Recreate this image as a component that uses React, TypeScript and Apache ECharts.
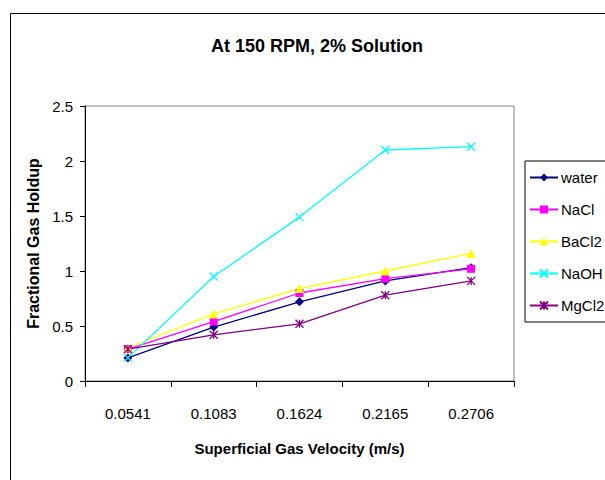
import React, { useEffect, useRef } from "react";
import * as echarts from "echarts";

const categories = ["0.0541", "0.1083", "0.1624", "0.2165", "0.2706"];
const water = [0.21, 0.49, 0.72, 0.91, 1.03];
const nacl = [0.29, 0.54, 0.8, 0.93, 1.02];
const bacl2 = [0.3, 0.61, 0.84, 1.0, 1.16];
const naoh = [0.21, 0.95, 1.49, 2.1, 2.13];
const mgcl2 = [0.29, 0.42, 0.52, 0.78, 0.91];
const yTicks = [0, 0.5, 1, 1.5, 2, 2.5];

const X_PATH = "path://M0,0 L10,10 M10,0 L0,10";
const STAR_PATH = "path://M0,0 L10,10 M10,0 L0,10 M5,0 L5,10";

export default function App() {
  const ref = useRef<HTMLDivElement>(null);
  useEffect(() => {
    document.body.style.margin = "0";
    const chart = echarts.init(ref.current!, null, { renderer: "svg" });
    const font = "'Liberation Sans', Arial, sans-serif";
    const mk = (name: string, data: number[], color: string, symbol: string, size: number, stroke?: boolean) => ({
      name,
      type: "line",
      data,
      symbol,
      symbolSize: size,
      showAllSymbol: true,
      lineStyle: { color, width: 1.3 },
      itemStyle: stroke
        ? { color, borderColor: color, borderWidth: 1.3 }
        : { color, borderWidth: 0 },
      emphasis: { disabled: true },
    });
    chart.setOption({
      animation: false,
      backgroundColor: "#fff",
      textStyle: { fontFamily: font },
      title: {
        text: "At 150 RPM, 2% Solution",
        left: 312,
        textAlign: "center",
        top: 32,
        textStyle: { fontSize: 18, fontWeight: "bold", color: "#000", fontFamily: font },
      },
      graphic: [
        {
          type: "rect",
          shape: { x: 10.5, y: 13.5, width: 700, height: 600 },
          style: { fill: "none", stroke: "#000", lineWidth: 1 },
          z: -1,
        },
      ],
      grid: {
        left: 85,
        top: 106,
        right: 91,
        bottom: 99,
        show: true,
        borderColor: "#808080",
        borderWidth: 1,
        backgroundColor: "transparent",
      },
      legend: {
        orient: "vertical",
        left: 525,
        top: 161,
        padding: [9, 8, 9, 4],
        itemGap: 17,
        itemWidth: 28,
        itemHeight: 10,
        borderColor: "#000",
        borderWidth: 1,
        textStyle: { fontSize: 15, color: "#000", fontFamily: font, padding: [0, 0, 0, -2] },
        data: ["water", "NaCl", "BaCl2", "NaOH", "MgCl2"],
      },
      xAxis: {
        type: "category",
        data: categories,
        boundaryGap: true,
        name: "Superficial Gas Velocity (m/s)",
        nameLocation: "middle",
        nameGap: 60,
        nameTextStyle: { fontSize: 15, fontWeight: "bold", color: "#000", fontFamily: font },
        axisLine: { lineStyle: { color: "#000", width: 1 } },
        axisTick: { show: true, inside: false, length: 6, lineStyle: { color: "#000" } },
        axisLabel: { fontSize: 15, color: "#000", margin: 25, fontFamily: font },
        splitLine: { show: false },
      },
      yAxis: {
        type: "value",
        min: yTicks[0],
        max: yTicks[yTicks.length - 1],
        interval: 0.5,
        name: "Fractional Gas Holdup",
        nameLocation: "middle",
        nameGap: 44,
        nameRotate: 90,
        nameTextStyle: { fontSize: 16, fontWeight: "bold", color: "#000", fontFamily: font },
        axisLine: { show: true, lineStyle: { color: "#000", width: 1 } },
        axisTick: { show: true, inside: false, length: 5, lineStyle: { color: "#000" } },
        axisLabel: { fontSize: 15, color: "#000", margin: 12, fontFamily: font },
        splitLine: { show: false },
      },
      series: [
        mk("water", water, "#000080", "diamond", 9),
        mk("NaCl", nacl, "#FF00FF", "rect", 8),
        mk("BaCl2", bacl2, "#FFFF00", "triangle", 9),
        mk("NaOH", naoh, "#00FFFF", X_PATH, 8, true),
        mk("MgCl2", mgcl2, "#800080", STAR_PATH, 8, true),
      ],
    });
    return () => chart.dispose();
  }, []);
  return <div ref={ref} style={{ width: 605, height: 480, position: "absolute", left: 0, top: 0 }} />;
}
